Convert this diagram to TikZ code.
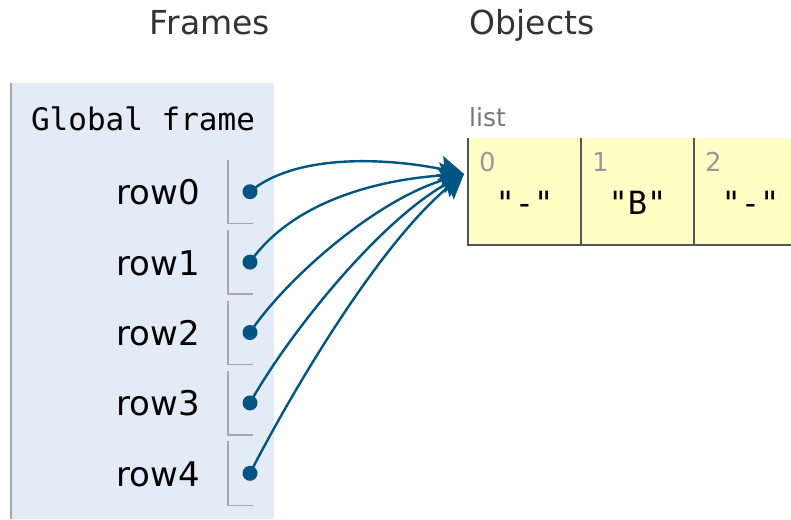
\documentclass[tikz,border=0pt]{standalone}
\usepackage{fontspec}
\setmainfont{DejaVu Sans}
\newfontfamily\monofont{DejaVu Sans Mono}
\usetikzlibrary{arrows.meta}

\definecolor{framebg}{HTML}{E2EBF6}
\definecolor{frameedge}{HTML}{A8A8A8}
\definecolor{listbg}{HTML}{FFFFC6}
\definecolor{listedge}{HTML}{555555}
\definecolor{ptrblue}{HTML}{005583}
\definecolor{titlegray}{HTML}{333333}
\definecolor{idxgray}{HTML}{999999}
\definecolor{typegray}{HTML}{777777}

\tikzset{
  title/.style={font=\fontsize{33}{40}\selectfont, text=titlegray, anchor=base, inner sep=0pt},
  varname/.style={font=\fontsize{34}{40}\selectfont, text=black, anchor=base east, inner sep=0pt},
  framehead/.style={font=\monofont\fontsize{31}{36}\selectfont, text=black, anchor=base, inner sep=0pt},
  dot/.style={circle, fill=ptrblue, minimum size=15pt, inner sep=0pt},
  bracket/.style={draw=frameedge, line width=1.4pt},
  ptr/.style={draw=ptrblue, line width=2.4pt, -{Stealth[length=24pt, width=26pt, inset=4pt]}},
  idx/.style={font=\fontsize{26}{30}\selectfont, text=idxgray, anchor=base west, inner sep=0pt},
  val/.style={font=\monofont\fontsize{32}{36}\selectfont, text=black, anchor=base, inner sep=0pt},
  typelbl/.style={font=\fontsize{25}{30}\selectfont, text=typegray, anchor=base west, inner sep=0pt},
}

\begin{document}
\begin{tikzpicture}[x=1pt, y=-1pt]
  \useasboundingbox (0,0) rectangle (791,519);
  \clip (0,0) rectangle (791,519);

  % headings
  \node[title] (hframes) at (210,35) {Frames};
  \node[title] (hobjects) at (532,35) {Objects};

  % global frame panel
  \fill[framebg] (11,83) rectangle (274,519);
  \draw[frameedge, line width=1.5pt] (11,83) -- (11,519);
  \node[framehead] (gf) at (143,130) {Global frame};

  % variables: name, slot bracket and pointer dot
  \foreach \i in {0,...,4} {
    \pgfmathsetmacro{\yy}{191.7 + 70.4*\i}
    \node[varname] (v\i) at (200,\yy+13) {row\i};
    \draw[bracket] (228,\yy-32) -- (228,\yy+32) -- (253,\yy+32);
    \node[dot] (d\i) at (250,\yy) {};
  }

  % list object
  \node[typelbl] (lt) at (469,126) {list};
  \fill[listbg] (468,138) rectangle (800,245);
  \draw[listedge, line width=1.5pt] (468,138) -- (468,245) -- (800,245);
  \draw[listedge, line width=1.5pt] (581,138) -- (581,245);
  \draw[listedge, line width=1.5pt] (694,138) -- (694,245);
  \node[idx] (i0) at (479,171) {0};
  \node[idx] (i1) at (592,171) {1};
  \node[idx] (i2) at (705,171) {2};
  \node[val] (c0) at (524.5,214) {"-"};
  \node[val] (c1) at (637.5,214) {"B"};
  \node[val] (c2) at (750.5,214) {"-"};
  \coordinate (tip) at (464,174);

  % pointers from each variable to the list
  \draw[ptr] (d0.center) .. controls (300,150) and (400,160) .. (tip);
  \draw[ptr] (d1.center) .. controls (290,205) and (370,180) .. (tip);
  \draw[ptr] (d2.center) .. controls (285,280) and (375,200) .. (tip);
  \draw[ptr] (d3.center) .. controls (288,335) and (378,222) .. (tip);
  \draw[ptr] (d4.center) .. controls (290,395) and (378,245) .. (tip);
\end{tikzpicture}
\end{document}
